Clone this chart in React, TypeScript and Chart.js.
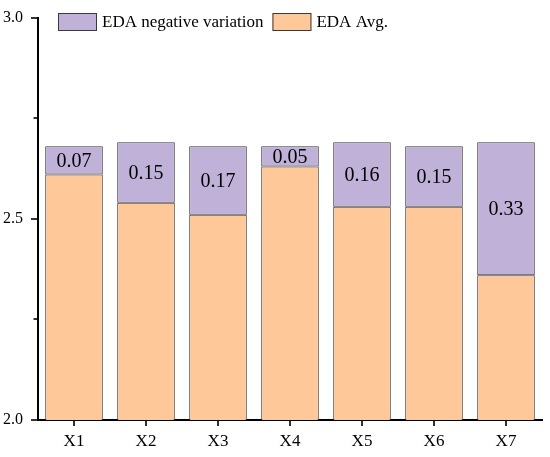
import React, { useEffect, useRef } from "react";
import { Chart, registerables } from "chart.js";

Chart.register(...registerables);

const categories = ["X1", "X2", "X3", "X4", "X5", "X6", "X7"];
const edaAvg = [2.61, 2.54, 2.51, 2.63, 2.53, 2.53, 2.36];
const edaNegVar = [0.07, 0.15, 0.17, 0.05, 0.16, 0.15, 0.33];
const yTicks = [2.0, 2.25, 2.5, 2.75, 3.0];

const FONT = '"Liberation Serif", "Times New Roman", Times, serif';
const ORANGE = "#FFC898";
const PURPLE = "#BFB1D7";
const EDGE = "#3a3a3a";

const isMajor = (v: number) => Math.abs(v * 2 - Math.round(v * 2)) < 1e-6;

const labelsPlugin = {
  id: "segLabels",
  afterDatasetsDraw(chart: any) {
    const ctx = chart.ctx;
    ctx.save();
    ctx.font = `20px ${FONT}`;
    ctx.fillStyle = "#000";
    ctx.textAlign = "center";
    ctx.textBaseline = "middle";
    chart.data.datasets.forEach((ds: any, di: number) => {
      const meta = chart.getDatasetMeta(di);
      meta.data.forEach((el: any, i: number) => {
        const v = ds.data[i];
        ctx.fillText(Number(v).toFixed(2), el.x, (el.y + el.base) / 2 + 1);
      });
    });
    ctx.restore();
  },
};

const tickPlugin = {
  id: "tickMarks",
  afterDraw(chart: any) {
    const ctx = chart.ctx;
    const y = chart.scales.y;
    const x = chart.scales.x;
    ctx.save();
    ctx.strokeStyle = "#000";
    ctx.lineWidth = 1.6;
    y.ticks.forEach((t: any) => {
      const py = Math.round(y.getPixelForValue(t.value));
      const len = isMajor(t.value) ? 7 : 4.5;
      ctx.beginPath();
      ctx.moveTo(y.right - len, py);
      ctx.lineTo(y.right, py);
      ctx.stroke();
    });
    x.ticks.forEach((_t: any, i: number) => {
      const px = Math.round(x.getPixelForTick(i));
      ctx.beginPath();
      ctx.moveTo(px, x.top);
      ctx.lineTo(px, x.top + 6);
      ctx.stroke();
    });
    ctx.restore();
  },
};

const legendPlugin = {
  id: "innerLegend",
  afterDraw(chart: any) {
    const ctx = chart.ctx;
    ctx.save();
    ctx.font = `17px ${FONT}`;
    ctx.textBaseline = "middle";
    ctx.textAlign = "left";
    const items = [...chart.data.datasets].reverse();
    let x = 58;
    const top = 13;
    const bw = 39;
    const bh = 18;
    items.forEach((ds: any) => {
      ctx.fillStyle = ds.backgroundColor;
      ctx.fillRect(x, top, bw, bh);
      ctx.strokeStyle = EDGE;
      ctx.lineWidth = 1;
      ctx.strokeRect(x + 0.5, top + 0.5, bw - 1, bh - 1);
      ctx.fillStyle = "#000";
      const tx = x + bw + 5;
      ctx.fillText(ds.label, tx, top + bh / 2 + 1);
      x = tx + ctx.measureText(ds.label).width + 9;
    });
    ctx.restore();
  },
};

export default function App() {
  const ref = useRef<HTMLCanvasElement | null>(null);

  useEffect(() => {
    if (!ref.current) return;
    const chart = new Chart(ref.current, {
      type: "bar",
      data: {
        labels: categories,
        datasets: [
          {
            label: "EDA Avg.",
            data: edaAvg,
            backgroundColor: ORANGE,
            borderColor: EDGE,
            borderWidth: 1,
            borderSkipped: false,
            barPercentage: 0.8,
            categoryPercentage: 1,
          },
          {
            label: "EDA negative variation",
            data: edaNegVar,
            backgroundColor: PURPLE,
            borderColor: EDGE,
            borderWidth: 1,
            borderSkipped: false,
            barPercentage: 0.8,
            categoryPercentage: 1,
          },
        ],
      },
      options: {
        responsive: false,
        animation: false,
        devicePixelRatio: 1,
        layout: { padding: { top: 15, right: 8, left: 0, bottom: 0 } },
        plugins: {
          legend: { display: false },
          tooltip: { enabled: false },
        },
        scales: {
          x: {
            stacked: true,
            grid: {
              display: false,
              drawTicks: true,
              tickLength: 6,
              offset: false,
            },
            border: { display: true, color: "#000", width: 2 },
            ticks: {
              color: "#000",
              font: { family: FONT, size: 17 },
              padding: 5,
            },
            afterFit: (s: any) => {
              s.height = 37;
            },
          },
          y: {
            stacked: true,
            min: 2,
            max: 3,
            afterBuildTicks: (s: any) => {
              s.ticks = yTicks.map((v) => ({ value: v }));
            },
            grid: {
              display: false,
              drawTicks: true,
              tickLength: 7,
            },
            border: { display: true, color: "#000", width: 2 },
            ticks: {
              color: "#000",
              font: { family: FONT, size: 16 },
              padding: 8,
              callback: (v: any) => {
                const n = Number(v);
                return isMajor(n) ? n.toFixed(1) : "";
              },
            },
            afterFit: (s: any) => {
              s.width = 38;
            },
          },
        },
      },
      plugins: [labelsPlugin, tickPlugin, legendPlugin],
    });
    return () => chart.destroy();
  }, []);

  return (
    <div style={{ position: "absolute", left: 0, top: 0, width: 550, height: 457, background: "#fff" }}>
      <canvas ref={ref} width={550} height={457} style={{ width: 550, height: 457, display: "block" }} />
    </div>
  );
}
